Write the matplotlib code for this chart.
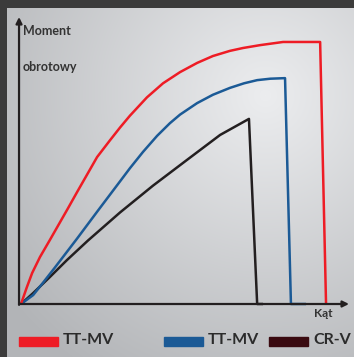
import numpy as np
import matplotlib
matplotlib.use("Agg")
import matplotlib.pyplot as plt
from matplotlib.patches import Rectangle

# Torque vs. angle curves (arbitrary units, 0-100 on both axes)
red_x = [0, 1.8, 3.4, 5.8, 8.8, 11.3, 14.3, 17.1, 19.5, 23.2, 27.1, 30.2, 33.2,
         38.4, 43.3, 48.5, 53.7, 58.5, 63.7, 67.7, 72.9, 79.9, 91.2, 93.0]
red_y = [0, 5.9, 10.8, 16.4, 22.3, 27.3, 33.3, 39.0, 43.8, 51.2, 57.0, 61.5, 65.6,
         72.0, 76.9, 80.8, 84.0, 86.4, 88.2, 89.2, 90.2, 91.3, 91.3, 0]

blue_x = [0, 3.7, 6.7, 10.4, 17.1, 23.5, 30.5, 33.2, 37.2, 41.5, 45.4, 48.5,
          53.7, 58.5, 63.7, 68.0, 72.0, 76.0, 80.5, 82.3, 86.9]
blue_y = [0, 3.1, 7.4, 12.8, 22.8, 32.6, 43.2, 47.3, 53.0, 58.6, 63.0, 66.0,
          70.0, 72.9, 75.3, 76.9, 78.0, 78.5, 78.7, 0, 0]

black_x = [0, 3.7, 8.8, 14.0, 20.4, 30.2, 40.2, 50.6, 60.7, 69.5, 72.0, 73.8]
black_y = [0, 3.8, 9.4, 15.3, 22.1, 31.9, 41.2, 50.2, 58.9, 64.5, 0, 0]

legend_labels = ["TT-MV", "TT-MV", "CR-V"]
legend_colors = ["#ee1c25", "#1b5a96", "#3a0a10"]
line_colors = ["#ee1c25", "#1b5a96", "#231f20"]

y_label_top = "Moment"
y_label_bottom = "obrotowy"
x_label = "Kąt"

W, H = 354, 357
fig = plt.figure(figsize=(W / 100, H / 100), dpi=100)
fig.patch.set_facecolor("#3b3b3b")

# Background: light grey panel with soft radial shading
bg = fig.add_axes([0, 0, 1, 1])
bg.set_xlim(0, W)
bg.set_ylim(H, 0)
bg.axis("off")
yy, xx = np.mgrid[0:H, 0:W]
t = np.clip(np.hypot(xx - 265, yy - 95) / 330.0, 0, 1)
light = np.array([236, 237, 239]) / 255.0
dark = np.array([178, 180, 183]) / 255.0
img = light[None, None, :] * (1 - t[..., None]) + dark[None, None, :] * t[..., None]
panel_x0, panel_y0 = 7, 8
bg.add_patch(Rectangle((0, 0), W, H, color="#3b3b3b", zorder=0))
bg.imshow(img[panel_y0:, panel_x0:], extent=(panel_x0, W, H, panel_y0),
          zorder=1, aspect="auto", interpolation="bilinear")

# Legend drawn in pixel coordinates on the background axes
font = ["Lato", "DejaVu Sans"]
legend_patch_x = [19, 164, 269]
for lx, lab, col in zip(legend_patch_x, legend_labels, legend_colors):
    bg.add_patch(Rectangle((lx, 337), 39, 9, color=col, zorder=3))
    bg.text(lx + 44, 340, lab, fontsize=11.5, fontweight="bold", color="#2b2b2b",
            family=font, va="center", ha="left", zorder=3)

# Main plotting area
ox, oy = 21, 304
x1, y1 = 349, 17
ax = fig.add_axes([ox / W, 1 - oy / H, (x1 - ox) / W, (oy - y1) / H])
ax.set_xlim(0, 100)
ax.set_ylim(0, 100)
ax.axis("off")
ax.patch.set_alpha(0)

axis_col = "#231f20"
ax.annotate("", xy=(100, 0), xytext=(-0.6, 0),
            arrowprops=dict(arrowstyle="-|>", color=axis_col, lw=1.6,
                            mutation_scale=9, shrinkA=0, shrinkB=0),
            annotation_clip=False)
ax.annotate("", xy=(-0.6, 100), xytext=(-0.6, -0.3),
            arrowprops=dict(arrowstyle="-|>", color=axis_col, lw=1.6,
                            mutation_scale=9, shrinkA=0, shrinkB=0),
            annotation_clip=False)

for xs, ys, c in [(black_x, black_y, line_colors[2]),
                  (blue_x, blue_y, line_colors[1]),
                  (red_x, red_y, line_colors[0])]:
    ax.plot(xs, ys, color=c, lw=1.8, solid_joinstyle="round",
            solid_capstyle="butt", clip_on=False)

ax.text(0.6, 95.2, y_label_top, fontsize=9, fontweight="bold", color="#333333",
        family=font, ha="left", va="center")
ax.text(0.6, 82.6, y_label_bottom, fontsize=9, fontweight="bold", color="#333333",
        family=font, ha="left", va="center")
ax.text(92.2, -3.3, x_label, fontsize=8.5, fontweight="bold", color="#333333",
        family=font, ha="center", va="center")

fig.savefig("out.png", dpi=100, facecolor=fig.get_facecolor())
